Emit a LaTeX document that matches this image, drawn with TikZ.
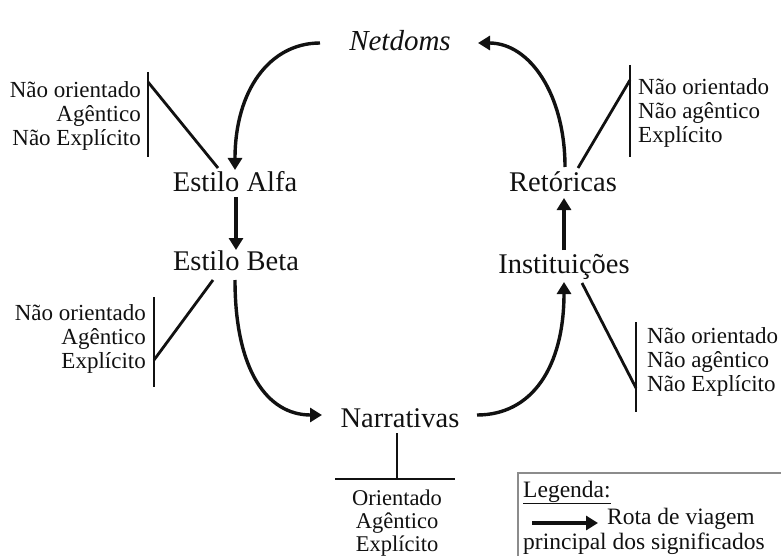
\documentclass[tikz,border=0pt]{standalone}
\usepackage{fontspec}
\setmainfont{Liberation Serif}
\usetikzlibrary{arrows.meta,calc}
\definecolor{ink}{HTML}{111111}
\definecolor{frame}{HTML}{8C8C8C}
\begin{document}
\begin{tikzpicture}[x=1pt,y=-1pt,
  stage/.style={font=\fontsize{28.5}{30}\selectfont, text=ink, inner sep=0pt, anchor=base},
  attrs/.style={font=\fontsize{23}{24}\selectfont, text=ink, inner sep=0pt},
  legtext/.style={font=\fontsize{23.5}{25}\selectfont, text=ink, inner sep=0pt, anchor=base west},
  route/.style={draw=ink, line width=3.4pt, -{Triangle[length=12pt,width=14pt]}},
  tie/.style={draw=ink, line width=2.8pt},
]
\useasboundingbox (0,0) rectangle (781,556);
\clip (0,0) rectangle (781,556);
\fill[white] (0,0) rectangle (781,556);

% stages of the route
\node[stage, font=\fontsize{29}{30}\selectfont\itshape] (net) at (400,51) {Netdoms};
\node[stage] (alfa) at (235,192) {Estilo Alfa};
\node[stage] (beta) at (236,270) {Estilo Beta};
\node[stage] (narr) at (400,427) {Narrativas};
\node[stage] (inst) at (564,273) {Instituições};
\node[stage] (ret)  at (563,192) {Retóricas};

% main route of the meanings
\draw[route] ($(net.base)+(-80,-8)$) .. controls +(-50,0) and +(0,-80) .. ($(alfa.base)+(0,-22)$);
\draw[route] ($(alfa.base)+(1,5)$) -- ($(beta.base)+(0,-20)$);
\draw[route] ($(beta.base)+(-1,10)$) .. controls +(0,90) and +(-55,0) .. ($(narr.base)+(-78,-12)$);
\draw[route] ($(narr.base)+(77,-12)$) .. controls +(55,0) and +(0,85) .. ($(inst.base)+(0,9)$);
\draw[route] ($(inst.base)+(0,-23)$) -- ($(ret.base)+(1,6)$);
\draw[route] ($(ret.base)+(2,-25)$) .. controls +(0,-72) and +(52,0) .. ($(net.base)+(78,-8)$);

% attribute groups
\node[attrs, align=right, anchor=north east] (attA) at (141,81) {Não orientado\\Agêntico\\Não Explícito};
\node[attrs, align=left, anchor=north west] (attB) at (638,78) {Não orientado\\Não agêntico\\Explícito};
\node[attrs, align=right, anchor=north east] (attC) at (146,304) {Não orientado\\Agêntico\\Explícito};
\node[attrs, align=left, anchor=north west] (attD) at (647,327) {Não orientado\\Não agêntico\\Não Explícito};
\node[attrs, font=\fontsize{22.5}{23}\selectfont, align=center, anchor=north] (attE) at (397,490) {Orientado\\Agêntico\\Explícito};

% brackets tying each group to its stage
\coordinate (barA) at (148,82);
\coordinate (barB) at (630,80);
\coordinate (barC) at (154,360);
\coordinate (barD) at (636,388);
\coordinate (barE) at (397,479);
\draw[tie] (148,72) -- (148,157);
\draw[tie] (barA) -- ($(alfa.base)+(-17,-24)$);
\draw[tie] (630,65) -- (630,157);
\draw[tie] (barB) -- ($(ret.base)+(15,-24)$);
\draw[tie] (154,297) -- (154,387);
\draw[tie] (barC) -- ($(beta.base)+(-23,10)$);
\draw[tie] (636,322) -- (636,412);
\draw[tie] (barD) -- ($(inst.base)+(18,10)$);
\draw[tie] (335,479) -- (455,479);
\draw[tie] (barE) -- ($(narr.base)+(-3,6)$);

% legend
\draw[frame, line width=1.5pt] (790,473) -- (518,473) -- (518,570);
\node[legtext] (legT) at (523,497) {\underline{Legenda:}};
\coordinate (legA) at (532,523);
\coordinate (legB) at (598,523);
\draw[route] (legA) -- (legB);
\node[legtext] (legR) at (607,524) {Rota de viagem};
\node[legtext] (legP) at (523,549) {principal dos significados};
\end{tikzpicture}
\end{document}
